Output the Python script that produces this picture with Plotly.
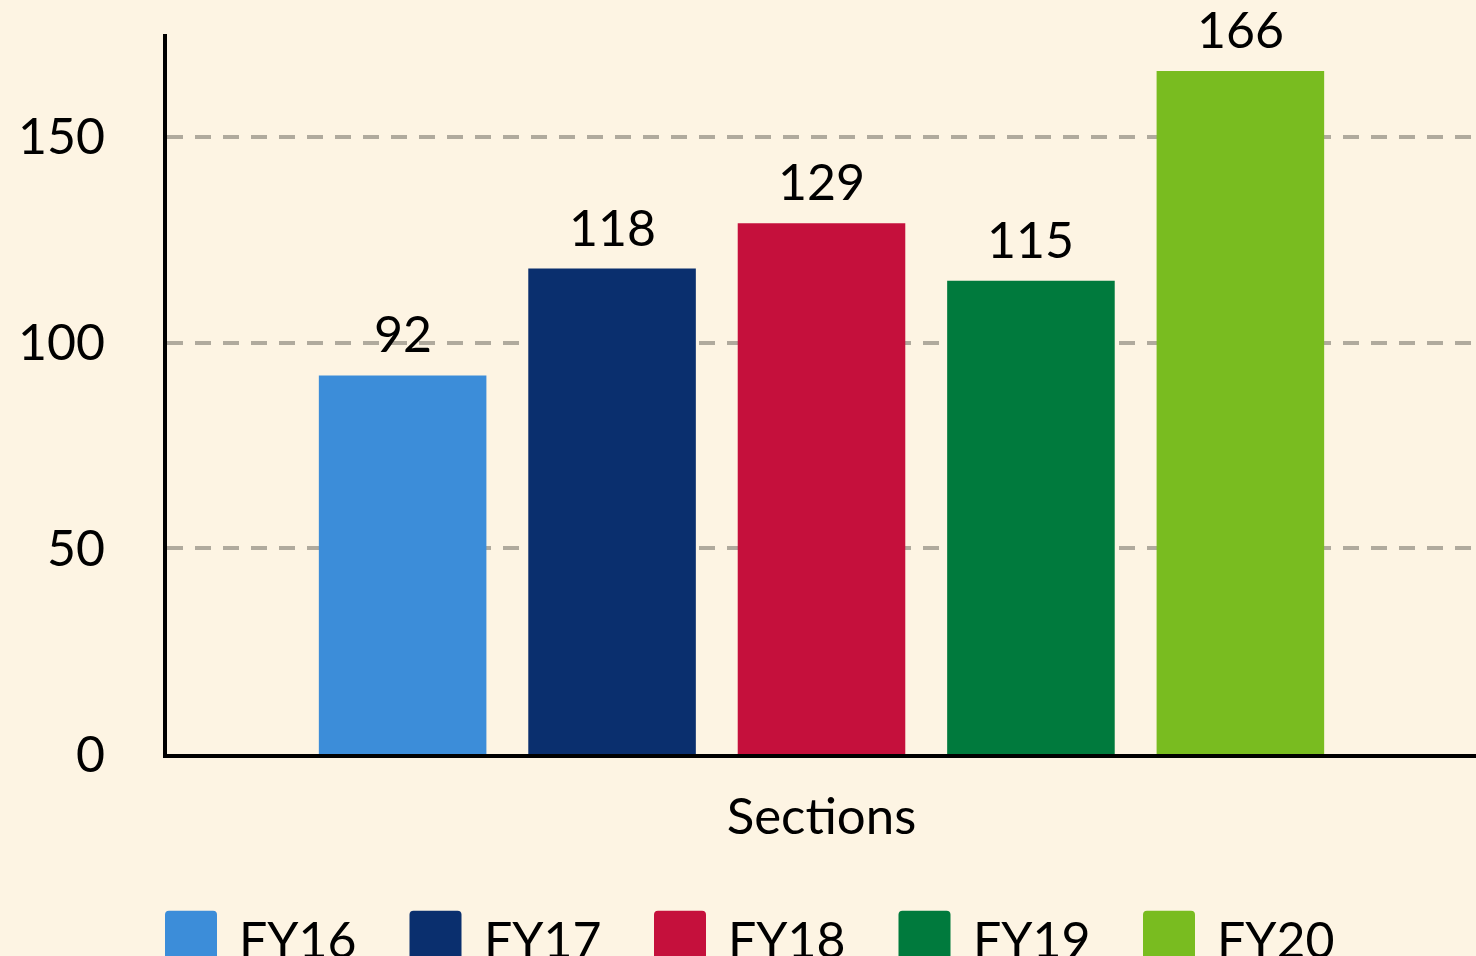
import plotly.graph_objects as go

categories = ["Sections"]
series_names = ["FY16", "FY17", "FY18", "FY19", "FY20"]
series_values = [92, 118, 129, 115, 166]
series_colors = ["#3c8dd9", "#0a2f6e", "#c5103c", "#007a3d", "#79bc20"]
y_ticks = [0, 50, 100, 150]

BG = "#fdf4e3"
FONT = "Lato"
BARGAP = 0.2

fig = go.Figure()
n = len(series_names)
for i, (name, val, col) in enumerate(zip(series_names, series_values, series_colors)):
    fig.add_trace(go.Bar(
        x=categories, y=[val], name=name,
        marker=dict(color=col, line=dict(width=0)),
        showlegend=False,
    ))
    # value label above each bar (bar centre derived from group layout)
    fig.add_annotation(
        xref="x", yref="y", x=(i - (n - 1) / 2) * (1 - BARGAP) / n, y=val,
        text=str(val), showarrow=False, yanchor="bottom", yshift=10,
        font=dict(family=FONT, size=50, color="#000000"),
    )

# custom legend (large rounded swatches)
leg_x0 = 165
leg_step = 244.5
for i, (name, col) in enumerate(zip(series_names, series_colors)):
    x0 = leg_x0 + i * leg_step
    r = 4
    w = 52
    path = (f"M{r},0 L{w-r},0 Q{w},0 {w},{-r} L{w},{-w+r} Q{w},{-w} {w-r},{-w} "
            f"L{r},{-w} Q0,{-w} 0,{-w+r} L0,{-r} Q0,0 {r},0 Z")
    fig.add_shape(type="path", xref="paper", yref="paper",
                  xsizemode="pixel", ysizemode="pixel",
                  xanchor=(x0 - 167) / (1476 - 167), yanchor=-(912 - 755) / 721,
                  path=path, fillcolor=col, line=dict(width=0), layer="above")
    fig.add_annotation(xref="paper", yref="paper",
                       x=(x0 + 72 - 167) / (1476 - 167), y=-(940 - 755) / 721,
                       xanchor="left", yanchor="middle", showarrow=False,
                       text=name, font=dict(family=FONT, size=50, color="#000000"))

fig.update_layout(
    width=1476, height=956,
    paper_bgcolor=BG, plot_bgcolor=BG,
    font=dict(family=FONT, size=50, color="#000000"),
    margin=dict(l=167, r=0, t=34, b=202),
    barmode="group", bargap=BARGAP, bargroupgap=0.2,
    xaxis=dict(showticklabels=False, showgrid=False, zeroline=False,
               showline=True, linecolor="#000000", linewidth=4, ticks="",
               title=dict(text="Sections", font=dict(family=FONT, size=51), standoff=42)),
    yaxis=dict(range=[0, 175], tickvals=y_ticks, showgrid=True,
               gridcolor="#b0aa9d", griddash="16px,12px", gridwidth=4,
               zeroline=False, showline=True, linecolor="#000000", linewidth=4,
               ticks="", ticklabelstandoff=48,
               tickfont=dict(family=FONT, size=50)),
)

fig.write_html("out.html", config={"displayModeBar": False},
               post_script="document.body.style.margin='0';")
